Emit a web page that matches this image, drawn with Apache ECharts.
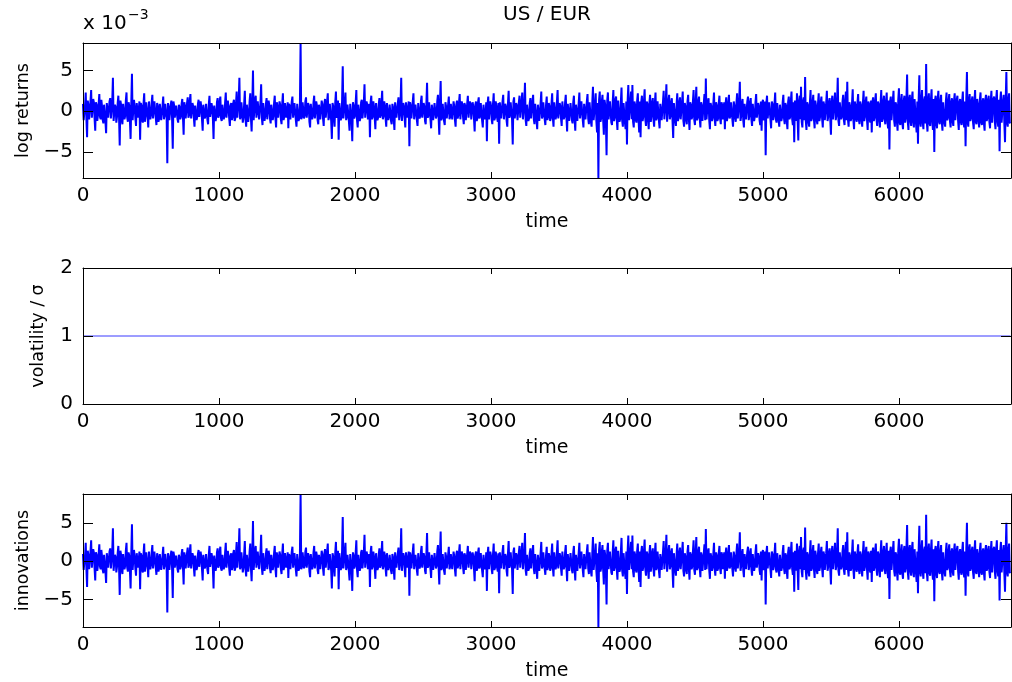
<!DOCTYPE html>
<html><head><meta charset="utf-8">
<script src="https://cdn.jsdelivr.net/npm/echarts@6/dist/echarts.min.js"></script>
<style>html,body{margin:0;padding:0;background:#fff}#c{width:1012px;height:682px}</style>
</head><body><div id="c"></div>
<script>
// ---------- data ----------
const chartTitle = 'US / EUR';
const timeStep = 10;            // readings every 10 time units, plus mid-step readings
const timeMax = 6824;
const xTicks = [0, 1000, 2000, 3000, 4000, 5000, 6000];
const returnsTicks = [-5, 0, 5];
const volTicks = [0, 1, 2];
const innovTicks = [-5, 0, 5];
const returnsRange = [-8.2, 8.37];   // x 10^-3
const volRange = [0, 2];
const innovRange = [-8.57, 8.75];
const sigmaE3 = 0.957;              // unconditional sigma, x 10^-3

// log returns (x 10^-3) at t = 0, 10, 20, ...
const logReturnsE3 = [
0.9,-1.2,2.3,-3.2,0.7,-0.9,2.6,-0.6,1.1,-2.4,
0.8,-0.5,2.1,-1.0,0.6,-1.5,0.9,-2.7,1.2,-0.7,
1.6,-0.8,4.1,-1.1,0.5,-0.7,1.9,-4.2,0.8,-1.6,
0.9,-0.6,2.3,-1.3,0.7,-3.4,4.6,-1.0,0.6,-1.8,
1.2,-0.9,-3.5,0.7,-1.4,2.2,-0.6,0.9,-2.0,1.0,
-0.5,2.0,-0.8,1.1,-1.7,0.6,-0.9,0.7,-1.2,1.8,
-0.6,0.8,-6.4,0.5,-1.0,1.3,-4.6,0.7,-0.8,0.6,
-1.4,0.5,-0.7,1.5,-2.9,0.6,-0.8,1.7,-0.5,2.1,
-0.8,0.6,-1.9,0.6,-0.7,1.4,-0.9,0.5,-2.4,0.8,
-0.6,0.7,-1.6,1.9,-0.8,0.5,-3.4,0.9,-0.7,1.6,
-0.5,1.8,-1.2,0.8,-0.6,2.3,-0.7,0.6,-1.8,1.0,
-0.7,1.4,-0.9,2.4,-1.0,4.1,-0.6,0.9,-0.8,2.5,
-1.9,0.7,-0.5,2.2,-2.5,5.0,-1.0,1.9,-0.6,1.2,
-0.9,3.3,-1.7,0.8,-0.6,1.6,-1.0,0.7,-1.5,0.8,
-0.6,1.9,-2.0,0.5,-0.9,0.8,-1.6,2.2,-0.7,0.9,
-0.8,-2.1,0.6,-0.8,1.8,-0.6,1.0,-1.9,0.7,-0.9,
8.37,-0.7,1.2,-0.5,1.7,-0.8,0.6,-2.0,0.9,-0.6,
1.9,-0.8,0.7,-1.6,0.6,-0.9,0.8,-1.8,1.5,-0.6,
2.2,-0.7,0.9,-3.4,0.6,-1.9,2.4,-0.5,-3.5,1.2,
-0.8,5.5,-1.1,2.3,-0.7,0.8,-2.4,1.0,-3.7,0.7,
-0.6,2.6,-2.0,0.9,-0.8,1.4,-0.9,3.3,-0.6,0.8,
-1.1,-3.2,1.9,-0.7,0.6,-2.2,0.8,-0.8,1.6,-0.5,
2.5,-0.6,0.7,-1.9,1.2,-0.6,0.9,-1.6,0.5,-2.3,
1.1,-0.9,1.7,-0.5,4.1,-1.1,0.6,-2.0,1.2,-0.8,
-4.3,0.6,-0.7,2.2,-1.0,0.7,-1.8,0.9,-0.6,1.9,
-0.8,0.6,-1.6,3.5,-0.5,1.0,-2.1,0.7,-0.9,1.2,
-0.6,2.0,-2.9,3.7,-0.8,0.9,-1.7,0.6,-1.0,1.8,
-0.7,1.1,-0.8,0.6,-1.9,1.3,-0.5,2.1,-0.9,0.8,
-1.6,0.7,-1.0,1.9,-0.6,0.9,-0.8,0.6,-2.5,1.2,
-0.9,1.7,-0.6,1.1,-2.0,0.8,-0.7,-3.7,1.8,-1.0,
0.7,-1.6,2.2,-0.8,0.6,-1.3,-4.0,1.0,-0.7,2.0,
-1.1,0.6,-1.9,2.5,-0.5,0.9,-4.1,1.7,-0.8,0.7,
-1.0,1.9,-0.6,2.3,-1.1,3.5,-1.8,0.6,-0.9,1.6,
-0.7,2.0,-1.6,0.8,-2.2,0.6,-1.0,2.4,-0.6,0.9,
-1.7,1.8,-0.7,0.6,-0.9,2.2,-1.9,1.1,-0.6,2.6,
-1.0,0.6,-1.8,1.2,-0.7,2.0,-2.5,0.8,-1.1,0.8,
-1.5,1.9,-2.4,0.7,-1.0,2.3,-0.8,1.1,-2.0,0.9,
-0.8,2.1,-1.6,0.9,-1.9,3.0,-1.3,2.2,-2.6,-8.2,
2.4,-0.9,2.0,-2.9,0.8,-5.4,2.3,-1.2,1.4,-1.7,
2.6,-0.8,1.8,-2.3,1.1,-1.0,2.9,-1.9,0.9,-2.2,
-4.1,3.2,-0.9,2.4,3.2,-2.0,0.8,-1.4,2.2,-2.6,
-3.2,1.9,-0.7,2.7,-1.8,0.9,-2.2,2.0,-0.6,1.6,
-1.9,2.3,-0.8,1.1,-2.1,0.7,-1.3,2.5,-0.9,3.3,
-1.5,2.0,-0.6,1.6,-3.3,0.8,-1.8,2.2,-0.7,1.7,
-0.9,2.4,-1.9,0.6,-1.6,2.0,-2.3,0.8,-0.7,2.6,
-1.7,3.0,-0.8,1.8,-2.0,0.7,-1.1,2.1,4.0,-0.9,
1.6,-2.2,0.6,-0.8,2.3,-1.8,0.7,-0.9,1.9,-1.6,
0.8,-1.0,-2.2,1.7,-0.7,2.0,-0.6,0.9,-1.9,0.7,
-1.3,2.2,-0.8,3.6,-0.6,1.5,-2.0,0.7,-0.9,1.8,
-0.6,1.6,-1.8,0.8,-0.7,2.1,-0.9,0.6,-1.7,-2.4,
1.4,-0.8,-5.4,1.9,-0.7,1.2,-2.1,0.9,-0.6,2.3,
-1.4,0.8,-1.9,0.6,-0.8,2.0,-1.6,0.7,-2.2,1.8,
-0.7,2.4,-1.7,-3.8,0.9,2.2,-3.6,1.9,3.0,-2.0,
1.7,4.2,-2.3,0.8,-1.9,2.6,-0.9,2.0,-2.1,0.7,
-1.6,2.2,-0.7,1.8,-2.0,0.8,-0.9,2.5,-0.7,1.6,
-2.9,1.9,-0.8,2.3,-0.6,4.1,-1.8,0.9,-0.7,2.0,
-1.7,2.4,3.6,-1.9,0.7,-0.9,2.7,-2.2,0.8,-1.3,
2.1,-1.6,0.8,-1.9,2.5,-0.7,1.8,-2.3,0.9,-1.4,
-2.6,1.7,-0.8,2.2,-1.8,0.9,-2.0,2.6,-0.9,1.9,
-1.6,2.3,-2.1,-4.7,1.8,-0.9,2.5,-1.9,0.8,-2.4,
2.8,-1.7,2.1,-2.2,1.9,-0.9,4.5,-2.3,2.0,-1.8,
2.4,-2.0,1.7,-2.6,-4.0,4.4,-1.9,2.6,-2.2,1.8,
5.8,-2.5,2.2,-1.8,2.7,-2.3,-5.0,1.9,-2.1,2.5,
-1.6,2.0,-2.4,0.9,-1.9,2.3,-0.8,2.1,-2.0,1.6,
-1.8,2.2,-0.9,1.9,-2.3,1.5,-1.7,2.4,-2.0,-4.3,
4.8,-1.9,2.1,-0.9,1.8,-2.2,2.6,-1.6,0.9,-2.0,
2.3,-1.7,1.6,-2.4,2.0,-0.9,1.9,-2.1,2.5,-1.6,
1.8,-2.2,2.6,-1.9,-4.9,2.4,-1.5,2.0,-3.8,4.8,
-1.9,2.2,-1.5
];

// log returns (x 10^-3) at the mid steps t = 5, 15, 25, ... (the dense core of the band)
const logReturnsMidE3 = [
-1.1,0.7,-0.9,1.3,-1.0,1.2,-0.8,1.5,-0.9,1.1,
-1.2,0.9,-0.7,1.4,-1.1,0.8,-1.3,1.0,-0.8,1.2,
-0.9,1.1,-1.2,0.8,-1.4,1.0,-0.7,1.3,-1.1,0.9,
-1.0,1.3,-0.8,1.1,-1.2,0.9,-1.1,1.4,-0.9,1.0,
-0.8,1.2,1.0,-1.1,0.9,-1.3,1.1,-0.7,1.2,-1.0,
1.1,-0.9,1.2,-0.8,1.0,-1.3,0.9,-1.1,0.7,-1.0,
0.9,-0.7,1.0,-1.1,0.8,-0.9,1.2,-0.8,0.7,-1.0,
0.8,-1.0,0.9,-0.7,1.1,-0.9,1.0,-0.8,1.2,-0.9,
1.0,-0.8,0.7,-1.1,0.9,-0.7,1.2,-1.0,0.8,-0.9,
0.9,-1.1,0.8,-0.7,1.0,-0.9,0.7,-1.2,1.1,-0.8,
1.2,-0.9,0.8,-1.0,1.1,-0.8,1.3,-0.9,0.7,-1.1,
1.0,-1.2,0.9,-0.8,1.3,-1.0,1.1,-1.4,0.9,-1.0,
0.8,-1.3,1.2,-0.9,1.0,-1.1,1.4,-0.8,1.2,-1.0,
1.1,-0.8,1.0,-1.2,0.9,-1.0,1.3,-0.9,0.8,-1.1,
1.0,-0.9,1.1,-0.8,1.2,-1.0,0.9,-1.1,1.0,-0.8,
1.1,0.9,-1.0,1.2,-0.8,1.0,-1.1,0.9,-1.2,0.8,
-1.0,1.1,-0.9,1.2,-0.8,1.0,-1.3,0.9,-1.0,1.1,
-0.9,1.2,-1.1,0.8,-1.0,1.3,-0.9,1.0,-0.8,1.2,
-1.1,0.9,-1.2,1.0,-0.9,1.1,-0.8,1.3,1.0,-1.1,
1.2,-0.9,1.0,-1.1,0.8,-1.2,0.9,-1.0,1.1,-0.9,
1.0,-1.1,0.8,-1.2,1.1,-0.9,1.0,-0.8,1.2,-1.0,
0.9,1.1,-1.0,1.2,-0.8,1.0,-1.1,0.9,-0.8,1.1,
-1.0,1.2,-0.9,1.0,-1.1,0.8,-1.2,0.9,-1.0,1.1,
-0.8,1.0,-1.1,0.9,-1.2,1.0,-0.9,1.1,-0.8,1.2,
1.1,-0.9,1.2,-1.0,0.8,-1.1,1.0,-0.9,1.2,-0.8,
1.0,-1.2,0.9,-0.8,1.1,-1.0,0.8,-1.1,1.0,-0.9,
1.2,-0.8,1.0,-1.1,0.9,-1.2,1.1,-0.9,0.8,-1.0,
0.9,-1.0,1.2,-1.1,0.8,-0.9,1.1,-1.0,1.2,-0.8,
1.0,-1.1,0.9,-0.8,1.2,-1.0,1.1,-0.9,0.8,-1.2,
1.1,-0.9,1.0,-1.2,0.8,-1.0,1.1,0.9,-1.0,1.2,
-1.0,0.9,-1.1,1.2,-0.8,1.0,1.1,-0.9,1.2,-1.0,
0.9,-1.2,1.0,-0.8,1.1,-1.0,1.2,-0.9,1.0,-1.1,
1.1,-0.8,1.2,-1.0,0.9,-1.1,0.8,-1.2,1.0,-0.9,
1.2,-1.0,0.9,-1.1,0.8,-1.2,1.0,-0.9,1.1,-1.0,
0.8,-1.1,1.0,-1.2,0.9,-0.8,1.1,-1.0,1.2,-0.9,
1.0,-0.9,1.2,-1.0,1.1,-0.8,0.9,-1.2,1.0,-1.1,
1.1,-1.0,0.8,-1.2,1.0,-0.9,1.2,-1.1,0.9,-1.0,
1.2,-0.9,1.1,-1.3,1.0,-1.1,0.9,-1.2,1.0,1.4,
-1.3,1.2,-1.1,1.4,-1.2,1.3,-1.0,1.2,-1.4,1.1,
-1.2,1.4,-1.0,1.3,-1.3,1.1,-1.2,1.0,-1.4,1.2,
1.3,-1.1,1.2,-1.0,-1.3,1.2,-1.1,1.3,-1.0,1.2,
1.1,-1.2,1.3,-1.0,1.2,-1.1,1.0,-1.3,1.1,-1.0,
1.0,-1.1,1.2,-1.2,0.9,-1.1,1.2,-1.0,1.1,-1.3,
1.2,-1.0,1.1,-1.2,1.0,-1.1,0.9,-1.2,1.1,-1.0,
1.1,-1.2,1.0,-1.1,1.2,-0.9,1.1,-1.0,1.2,-1.1,
1.0,-1.1,1.2,-0.9,1.1,-1.2,1.0,-1.1,-1.0,1.2,
-1.1,1.0,-1.2,0.9,-1.0,1.1,-1.2,1.0,-0.9,1.1,
-1.0,1.1,0.9,-1.2,1.0,-0.9,1.1,-1.0,1.2,-0.8,
1.0,-0.9,1.1,-1.2,1.0,-1.1,0.9,-1.0,1.2,-1.1,
1.1,-1.0,0.9,-1.2,1.1,-0.8,1.0,-1.1,1.2,1.0,
-1.1,1.2,1.0,-0.9,1.1,-1.0,1.2,-1.1,0.9,-1.0,
1.0,-1.1,0.8,-1.2,1.1,-0.9,1.0,-1.2,1.1,-1.0,
1.2,-1.0,1.1,1.3,-1.2,-1.1,1.2,-1.0,-1.3,1.2,
-1.1,-1.2,1.1,-1.3,1.0,-1.2,1.1,-1.0,1.3,-1.1,
1.0,-1.2,1.1,-0.9,1.2,-1.1,1.0,-1.2,1.1,-1.0,
1.1,-1.0,1.2,-1.1,1.0,-1.2,1.1,-1.0,1.2,-1.1,
1.2,-1.1,-1.0,1.1,-1.2,1.0,-1.1,1.2,-1.0,1.1,
-1.0,1.2,-1.1,1.0,-1.2,1.1,-1.0,1.2,-1.1,1.3,
1.1,-1.2,1.3,-1.0,1.2,-1.1,1.0,-1.3,1.2,-1.1,
1.2,-1.1,1.3,1.2,-1.1,1.3,-1.2,1.1,-1.3,1.4,
-1.4,1.3,-1.5,1.2,-1.4,1.5,-1.3,1.4,-1.2,1.5,
-1.3,1.5,-1.4,1.2,1.4,-1.3,1.5,-1.4,1.3,-1.5,
-1.4,1.3,-1.5,1.4,-1.2,1.5,1.3,-1.4,1.5,-1.3,
1.2,-1.3,1.1,-1.4,1.2,-1.1,1.3,-1.2,1.1,-1.3,
1.3,-1.1,1.4,-1.2,1.1,-1.3,1.2,-1.4,1.2,1.3,
-1.3,1.4,-1.2,1.3,-1.4,1.2,-1.3,1.5,-1.2,1.4,
-1.4,1.2,-1.5,1.3,-1.2,1.4,-1.3,1.2,-1.4,1.5,
-1.3,1.5,-1.2,1.4,1.3,-1.4,1.2,-1.5,1.3,-1.4,
1.3,-1.4
];

// volatility / sigma, read as flat at 1 across the whole sample
const volatilityTimes  = [0, 1000, 2000, 3000, 4000, 5000, 6000, 6820];
const volatilityValues = [1, 1, 1, 1, 1, 1, 1, 1];

// ---------- build ----------
const FONT = 'DejaVu Sans';
const returnsData = [];
logReturnsE3.forEach((v, i) => {
  returnsData.push([i * timeStep, v]);
  if (i < logReturnsMidE3.length) returnsData.push([i * timeStep + timeStep / 2, logReturnsMidE3[i]]);
});
const volData = volatilityTimes.map((t, i) => [t, volatilityValues[i]]);
// innovations = return / (sigma * volatility); volatility/sigma is 1 throughout
const innovData = returnsData.map(p => [p[0], p[1] / sigmaE3]);

const grids = [
  {left: 83, top: 43, width: 928, height: 135},
  {left: 83, top: 268, width: 928, height: 136},
  {left: 83, top: 494, width: 928, height: 136}
].map(g => Object.assign(g, {show: false}));

const plain = v => String(v).replace('-', '\u2212');
const AX_LINE = {show: true, onZero: false, lineStyle: {color: '#000', width: 1}};

function xAx(g, pos) {
  const bottom = pos === 'bottom';
  return {
    type: 'value', gridIndex: g, position: pos, min: 0, max: timeMax, z: 5,
    axisLine: AX_LINE, splitLine: {show: false},
    axisTick: {show: true, inside: true, length: 6, customValues: xTicks, lineStyle: {color: '#000', width: 1}},
    axisLabel: {show: bottom, customValues: xTicks, margin: 8, color: '#000', fontFamily: FONT, fontSize: 20, formatter: plain},
    name: bottom ? 'time' : '', nameLocation: 'middle', nameGap: 35,
    nameTextStyle: {color: '#000', fontFamily: FONT, fontSize: 19}
  };
}
function yAx(g, pos, range, ticks, name, gap) {
  const left = pos === 'left';
  return {
    type: 'value', gridIndex: g, position: pos, min: range[0], max: range[1], z: 5,
    axisLine: AX_LINE, splitLine: {show: false},
    axisTick: {show: true, inside: true, length: 10, customValues: ticks, lineStyle: {color: '#000', width: 1}},
    axisLabel: {show: left, customValues: ticks, margin: 10, color: '#000', fontFamily: FONT, fontSize: 20, formatter: plain},
    name: left ? name : '', nameLocation: 'middle', nameGap: gap, nameRotate: 90,
    nameTextStyle: {color: '#000', fontFamily: FONT, fontSize: 17.5}
  };
}

const lineBase = {type: 'line', showSymbol: false, symbol: 'none', animation: false, silent: true, sampling: null, clip: true, z: 1};

const option = {
  animation: false,
  backgroundColor: '#fff',
  grid: grids,
  xAxis: [xAx(0, 'bottom'), xAx(0, 'top'), xAx(1, 'bottom'), xAx(1, 'top'), xAx(2, 'bottom'), xAx(2, 'top')],
  yAxis: [
    yAx(0, 'left', returnsRange, returnsTicks, 'log returns', 50), yAx(0, 'right', returnsRange, returnsTicks, '', 0),
    yAx(1, 'left', volRange, volTicks, 'volatility / \u03C3', 36), yAx(1, 'right', volRange, volTicks, '', 0),
    yAx(2, 'left', innovRange, innovTicks, 'innovations', 50), yAx(2, 'right', innovRange, innovTicks, '', 0)
  ],
  series: [
    Object.assign({}, lineBase, {name: 'log returns', xAxisIndex: 0, yAxisIndex: 0, data: returnsData, lineStyle: {color: '#0000ff', width: 2}}),
    Object.assign({}, lineBase, {name: 'volatility', xAxisIndex: 2, yAxisIndex: 2, data: volData, lineStyle: {color: '#3a3aff', width: 1}}),
    Object.assign({}, lineBase, {name: 'innovations', xAxisIndex: 4, yAxisIndex: 4, data: innovData, lineStyle: {color: '#0000ff', width: 2}})
  ],
  graphic: [
    {type: 'text', x: 0, y: 0, style: {text: chartTitle, x: 547, y: 25, textAlign: 'center', textVerticalAlign: 'bottom', fill: '#000', font: '20px "DejaVu Sans"'}},
    {type: 'text', x: 83, y: 34, style: {text: 'x 10', textVerticalAlign: 'bottom', fill: '#000', font: '20px "DejaVu Sans"'}},
    {type: 'text', x: 128, y: 22, style: {text: '\u22123', textVerticalAlign: 'bottom', fill: '#000', font: '14px "DejaVu Sans"'}}
  ]
};

const chart = echarts.init(document.getElementById('c'), null, {renderer: 'canvas'});
chart.setOption(option);
</script>
</body></html>
